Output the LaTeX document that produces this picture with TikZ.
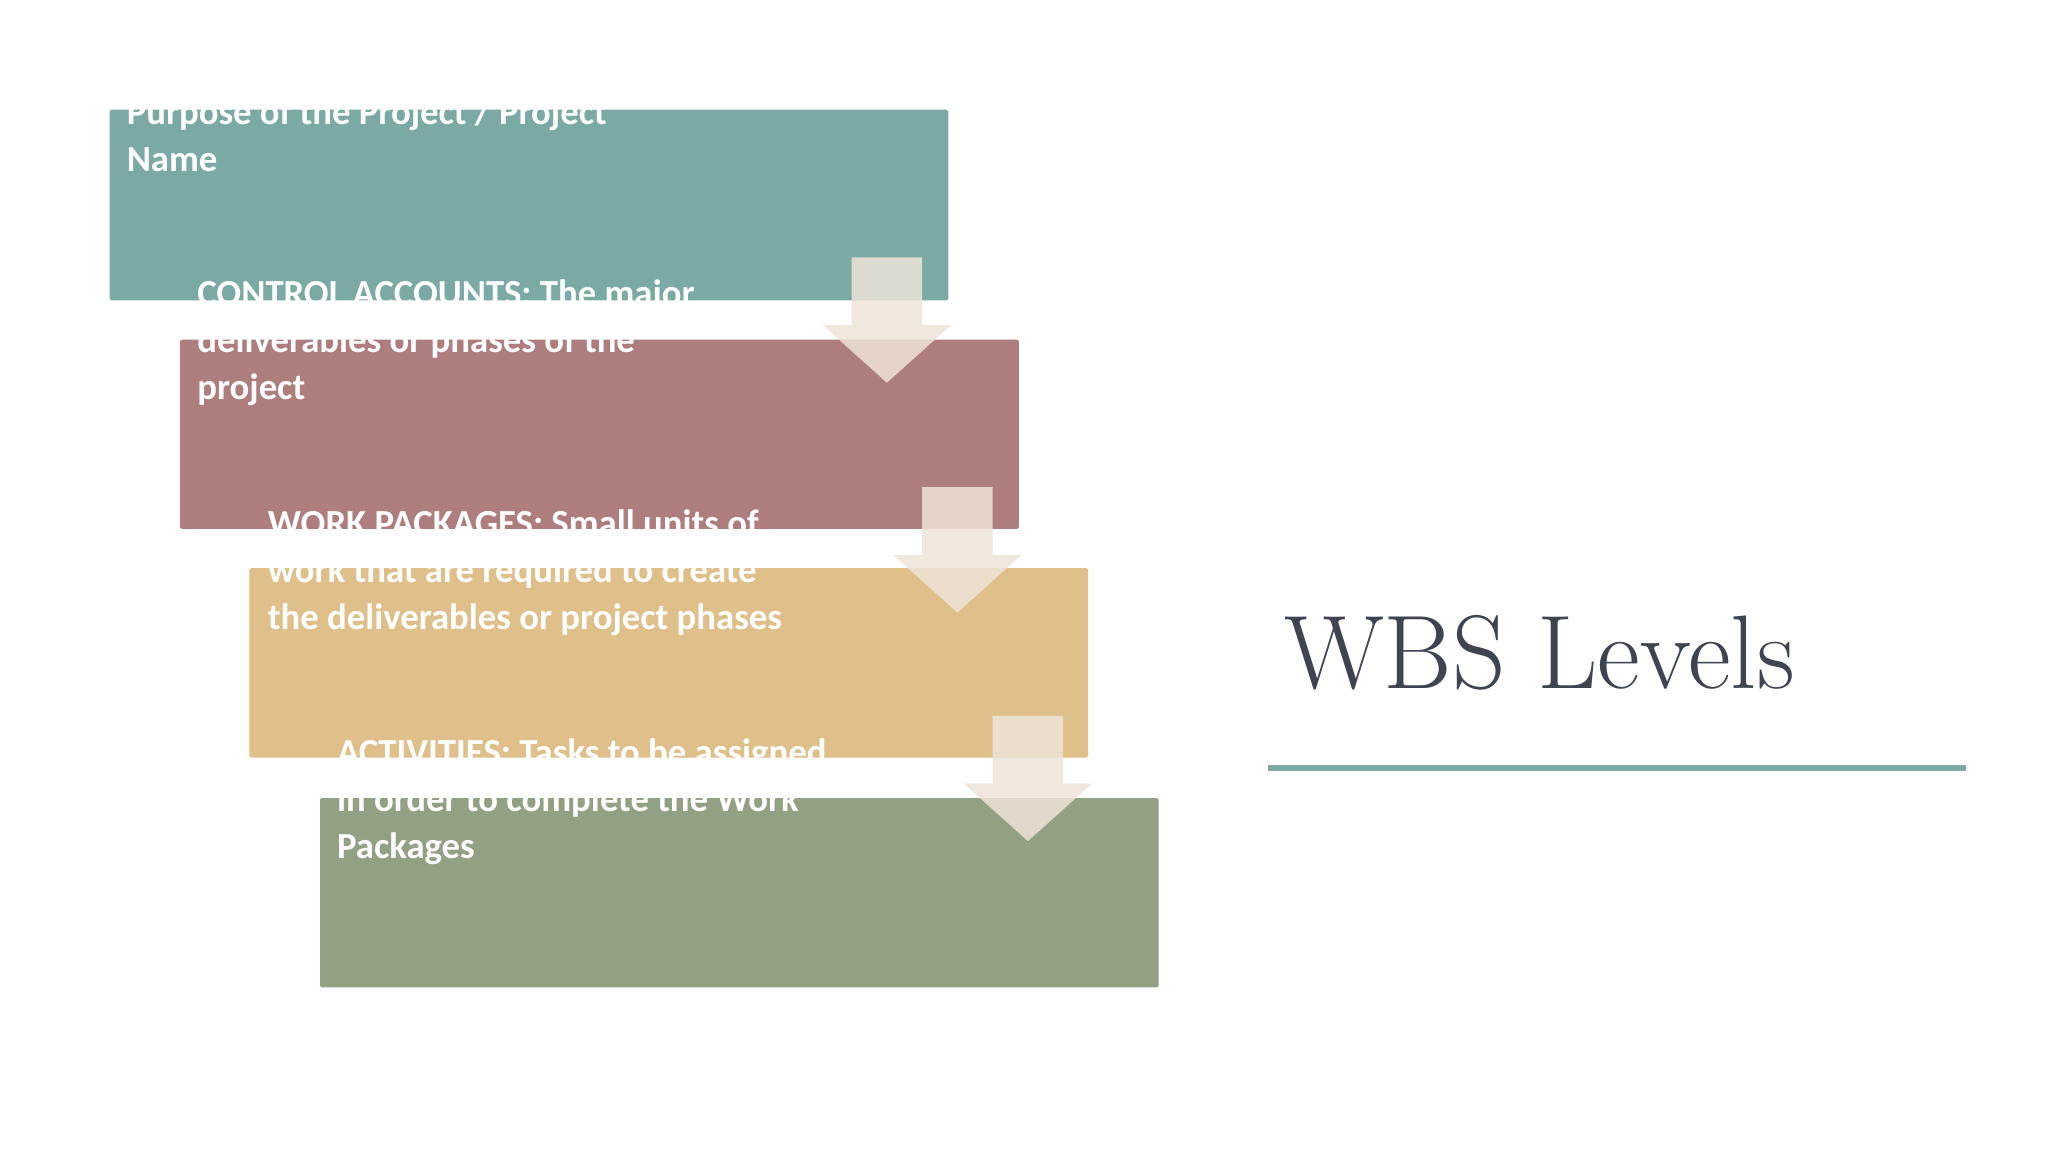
\documentclass[tikz,border=0pt]{standalone}
\usepackage{fontspec}
\setmainfont{Latin Modern Roman}
\newfontfamily\boxfont{Carlito}
\definecolor{cA}{HTML}{7BA9A3}
\definecolor{cB}{HTML}{AE7E7E}
\definecolor{cC}{HTML}{E0C08A}
\definecolor{cD}{HTML}{92A083}
\definecolor{arr}{HTML}{EEE4D8}
\definecolor{ttl}{HTML}{3F4451}
\begin{document}
\begin{tikzpicture}[x=0.1cm,y=-0.1cm,
  lvl/.style={rounded corners=1.2mm},
  txt/.style={anchor=base west,align=left,text=white,font=\boxfont\bfseries\fontsize{80pt}{102.4pt}\selectfont,inner sep=0pt},
  darr/.style={fill=arr,fill opacity=0.85}]
\useasboundingbox (0,0) rectangle (1568,882);
\fill[white] (0,0) rectangle (1568,882);
\fill[cA,lvl] (84,84) rectangle (726,230);
\fill[cB,lvl] (138,260) rectangle (780,405);
\fill[cC,lvl] (191,435) rectangle (833,580);
\fill[cD,lvl] (245,611) rectangle (887,756);
\node[txt] (t1) at (97,131) {PROJECT LEVEL: The Core\\Purpose of the Project / Project\\Name};
\node[txt] (t2) at (151,306) {CONTROL ACCOUNTS: The major\\deliverables or phases of the\\project};
\node[txt] (t3) at (205,482) {WORK PACKAGES: Small units of\\work that are required to create\\the deliverables or project phases};
\node[txt] (t4) at (258,657) {ACTIVITIES: Tasks to be assigned\\in order to complete the Work\\Packages};
\foreach \dx/\dy in {0/0,54/176,108/351}{
  \fill[darr] (652+\dx,197+\dy) -- (706+\dx,197+\dy) -- (706+\dx,249+\dy) -- (728+\dx,249+\dy) -- (679+\dx,293+\dy) -- (630+\dx,249+\dy) -- (652+\dx,249+\dy) -- cycle;
}
\node[anchor=base west,inner sep=0pt,text=ttl,font=\fontsize{228pt}{260pt}\selectfont] (title) at (983,527) {WBS Levels};
\draw[cA,line width=11pt] (971,588) -- (1505,588);
\end{tikzpicture}
\end{document}
